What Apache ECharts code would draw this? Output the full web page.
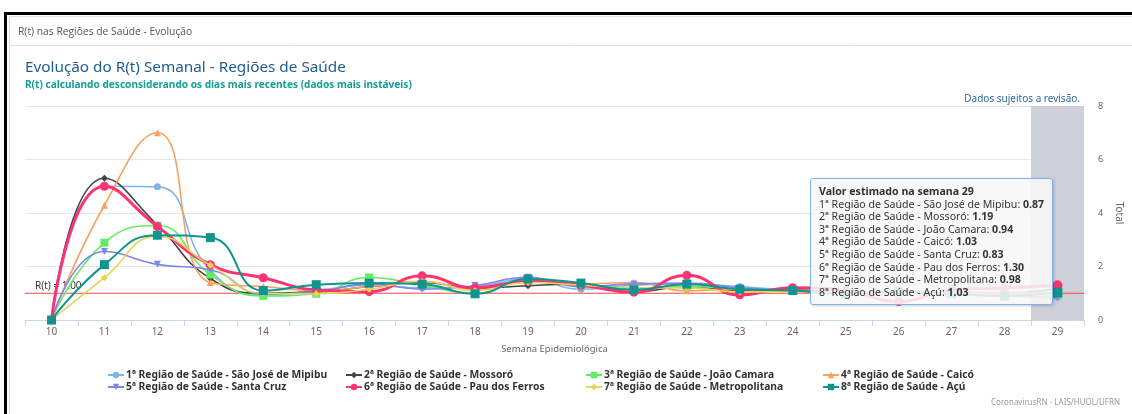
<!DOCTYPE html>
<html>
<head>
<meta charset="utf-8">
<script src="https://cdn.jsdelivr.net/npm/echarts@6/dist/echarts.min.js"></script>
<style>
html,body{margin:0;padding:0;background:#fff;}
#chart{width:1132px;height:414px;}
</style>
</head>
<body>
<div id="chart"></div>
<script>
// ---- data ----
var weeks = ['10','11','12','13','14','15','16','17','18','19','20','21','22','23','24','25','26','27','28','29'];
var seriesNames = [
  '1ª Região de Saúde - São José de Mipibu',
  '2ª Região de Saúde - Mossoró',
  '3ª Região de Saúde - João Camara',
  '4ª Região de Saúde - Caicó',
  '5ª Região de Saúde - Santa Cruz',
  '6ª Região de Saúde - Pau dos Ferros',
  '7ª Região de Saúde - Metropolitana',
  '8ª Região de Saúde - Açú'
];
var r1 = [0, 5.00, 4.98, 1.85, 0.95, 1.10, 1.30, 1.20, 1.25, 1.55, 1.15, 1.30, 1.35, 1.25, 1.10, 1.00, 0.95, 1.00, 0.95, 0.87];
var r2 = [0, 5.30, 3.55, 1.55, 1.00, 1.05, 1.25, 1.40, 1.20, 1.28, 1.35, 1.05, 1.25, 1.10, 1.12, 1.05, 1.00, 1.05, 1.00, 1.19];
var r3 = [0, 2.89, 3.53, 1.70, 0.90, 0.98, 1.59, 1.30, 1.00, 1.50, 1.30, 1.20, 1.25, 1.15, 1.10, 1.00, 1.00, 1.00, 0.95, 0.94];
var r4 = [0, 4.29, 7.00, 1.40, 1.25, 1.10, 1.25, 1.45, 1.15, 1.45, 1.35, 1.40, 1.09, 1.15, 1.10, 1.05, 1.00, 1.05, 1.00, 1.03];
var r5 = [0, 2.56, 2.08, 1.88, 0.98, 1.05, 1.35, 1.15, 1.29, 1.60, 1.25, 1.35, 1.38, 1.20, 1.10, 1.00, 0.95, 0.95, 0.90, 0.83];
var r6 = [0, 5.00, 3.50, 2.07, 1.58, 1.13, 1.06, 1.65, 1.20, 1.45, 1.30, 1.04, 1.67, 0.94, 1.21, 1.10, 0.69, 1.13, 1.20, 1.30];
var r7 = [0, 1.58, 3.12, 2.05, 1.00, 0.98, 1.15, 1.44, 1.10, 1.40, 1.30, 1.20, 1.20, 1.05, 1.05, 1.00, 0.95, 1.00, 0.92, 0.98];
var r8 = [0, 2.07, 3.17, 3.08, 1.10, 1.32, 1.38, 1.34, 0.98, 1.53, 1.38, 1.13, 1.34, 1.15, 1.10, 0.97, 1.06, 0.98, 0.90, 1.03];
var yTicks = [0, 2, 4, 6, 8];
var threshold = 1;

var seriesValues = [r1, r2, r3, r4, r5, r6, r7, r8];
var colors = ['#7cb5ec', '#434348', '#62ec62', '#f7a35c', '#8085e9', '#ff3370', '#e4d354', '#109490'];
var symbols = ['circle', 'diamond', 'rect', 'triangle', 'path://M0,0 L10,0 L5,10 Z', 'circle', 'diamond', 'rect'];
var symbolSizes = [7, 7, 8, 7, 7, 9, 7, 9];
var lineWidths = [1.6, 1.6, 1.6, 1.6, 1.6, 3, 1.6, 2];

var FONT = '"Noto Sans", "DejaVu Sans", sans-serif';
var legendCols = [107, 345, 585, 822];
var legendRows = [370, 382];

var series = seriesValues.map(function (vals, i) {
  return {
    name: seriesNames[i],
    type: 'line',
    xAxisIndex: 0,
    data: vals,
    smooth: 0.5,
    symbol: symbols[i],
    symbolSize: symbolSizes[i],
    showAllSymbol: true,
    itemStyle: { color: colors[i] },
    lineStyle: { color: colors[i], width: lineWidths[i] },
    emphasis: { disabled: true },
    z: 3 + i
  };
});

// threshold line R(t) = 1, spanning the full plot width (hidden 0..1 x axis)
series.push({
  name: 'R(t) limiar',
  type: 'line',
  xAxisIndex: 1,
  symbol: 'circle',
  symbolSize: 1,
  showSymbol: true,
  tooltip: { show: false },
  lineStyle: { color: '#ff4848', width: 1 },
  itemStyle: { color: '#ff4848' },
  emphasis: { disabled: true },
  label: {
    show: true, position: 'top', align: 'left', offset: [10, 3],
    formatter: function (p) { return p.dataIndex === 0 ? 'R(t) = ' + Number(p.value[1]).toFixed(2) : ''; },
    color: '#333', fontSize: 10, fontFamily: FONT
  },
  data: [[0, threshold], [1, threshold]],
  z: 2
});

var chart = echarts.init(document.getElementById('chart'), null, { renderer: 'canvas' });

var legendText = { fontSize: 10.3, fontWeight: 'bold', color: '#333', fontFamily: FONT, padding: [0, 0, 0, -3] };

var legends = seriesNames.map(function (n, i) {
  return {
    data: [n],
    left: legendCols[i % 4],
    top: legendRows[Math.floor(i / 4)],
    itemWidth: 16, itemHeight: 8, padding: 0,
    textStyle: legendText
  };
});

chart.setOption({
  animation: false,
  color: colors,
  title: [
    { text: 'R(t) nas Regiões de Saúde - Evolução', left: 18, top: 27, padding: 0,
      textStyle: { fontSize: 10.3, fontWeight: 'normal', color: '#555', fontFamily: '"Open Sans", sans-serif' } },
    { text: 'Evolução do R(t) Semanal - Regiões de Saúde', left: 25, top: 60, padding: 0,
      textStyle: { fontSize: 15.3, fontWeight: 'normal', color: '#1d5d92', fontFamily: FONT } },
    { text: 'R(t) calculando desconsiderando os dias mais recentes (dados mais instáveis)', left: 25, top: 80, padding: 0,
      textStyle: { fontSize: 10.1, fontWeight: 'bold', color: '#14a096', fontFamily: FONT } },
    { text: 'Dados sujeitos a revisão.', right: 52, top: 94, padding: 0,
      textStyle: { fontSize: 10, fontWeight: 'normal', color: '#2c6aa0', fontFamily: FONT } },
    { text: 'CoronavirusRN - LAIS/HUOL/UFRN', right: 12, top: 399, padding: 0,
      textStyle: { fontSize: 8, fontWeight: 'normal', color: '#999', fontFamily: FONT } }
  ],
  graphic: [
    { type: 'rect', shape: { x: 4, y: 12, width: 1128, height: 3 }, style: { fill: '#000' }, silent: true },
    { type: 'rect', shape: { x: 4, y: 12, width: 3, height: 402 }, style: { fill: '#000' }, silent: true },
    { type: 'line', shape: { x1: 9.5, y1: 16, x2: 9.5, y2: 414 }, style: { stroke: '#dcdcdc', lineWidth: 1 }, silent: true },
    { type: 'line', shape: { x1: 9, y1: 16.5, x2: 1132, y2: 16.5 }, style: { stroke: '#e2e2e2', lineWidth: 1 }, silent: true },
    { type: 'line', shape: { x1: 9, y1: 45.5, x2: 1132, y2: 45.5 }, style: { stroke: '#e2e2e2', lineWidth: 1 }, silent: true }
  ],
  legend: legends,
  grid: { left: 25, right: 48, top: 106, bottom: 94, containLabel: false },
  tooltip: {
    trigger: 'axis',
    alwaysShowContent: true,
    showDelay: 0,
    transitionDuration: 0,
    position: [810, 178],
    backgroundColor: 'rgba(247,247,247,0.88)',
    borderColor: '#7cb5ec',
    borderWidth: 1,
    padding: [6, 8, 6, 8],
    extraCssText: 'border-radius:3px;box-shadow:1px 1px 3px rgba(0,0,0,0.2);',
    textStyle: { fontSize: 10.5, color: '#333', fontFamily: FONT },
    axisPointer: { type: 'shadow', shadowStyle: { color: 'rgba(196,200,210,0.85)' }, z: 0 },
    formatter: function (params) {
      var h = '<div style="line-height:12.6px;font-size:10.6px;color:#333">';
      var head = params.filter(function (p) { return seriesNames.indexOf(p.seriesName) >= 0; });
      h += '<b>Valor estimado na semana ' + head[0].axisValue + '</b><br/>';
      head.forEach(function (p) {
        h += p.seriesName + ': <b>' + Number(p.value).toFixed(2) + '</b><br/>';
      });
      return h + '</div>';
    }
  },
  xAxis: [{
    type: 'category',
    data: weeks,
    boundaryGap: true,
    name: 'Semana Epidemiológica',
    nameLocation: 'middle',
    nameGap: 24,
    nameTextStyle: { fontSize: 9.5, color: '#666', fontFamily: FONT },
    axisLine: { lineStyle: { color: '#ccd6eb' } },
    axisTick: { show: true, length: 6, lineStyle: { color: '#ccd6eb' } },
    axisLabel: { fontSize: 10, color: '#666', fontFamily: FONT, margin: 7 },
    splitLine: { show: false }
  }, {
    type: 'value',
    min: 0,
    max: 1,
    show: false,
    axisPointer: { show: false, triggerTooltip: false }
  }],
  yAxis: {
    type: 'value',
    position: 'right',
    min: yTicks[0],
    max: yTicks[yTicks.length - 1],
    interval: yTicks[1] - yTicks[0],
    name: 'Total',
    nameLocation: 'middle',
    nameRotate: -90,
    nameGap: 28,
    nameTextStyle: { fontSize: 10, color: '#666', fontFamily: FONT },
    axisLine: { show: false },
    axisTick: { show: false },
    axisLabel: { fontSize: 9, color: '#666', fontFamily: FONT, margin: 14 },
    splitLine: { lineStyle: { color: '#e6e6e6' } },
    axisPointer: { show: false }
  },
  series: series
});

chart.dispatchAction({ type: 'showTip', seriesIndex: 0, dataIndex: weeks.length - 1 });
</script>
</body>
</html>
